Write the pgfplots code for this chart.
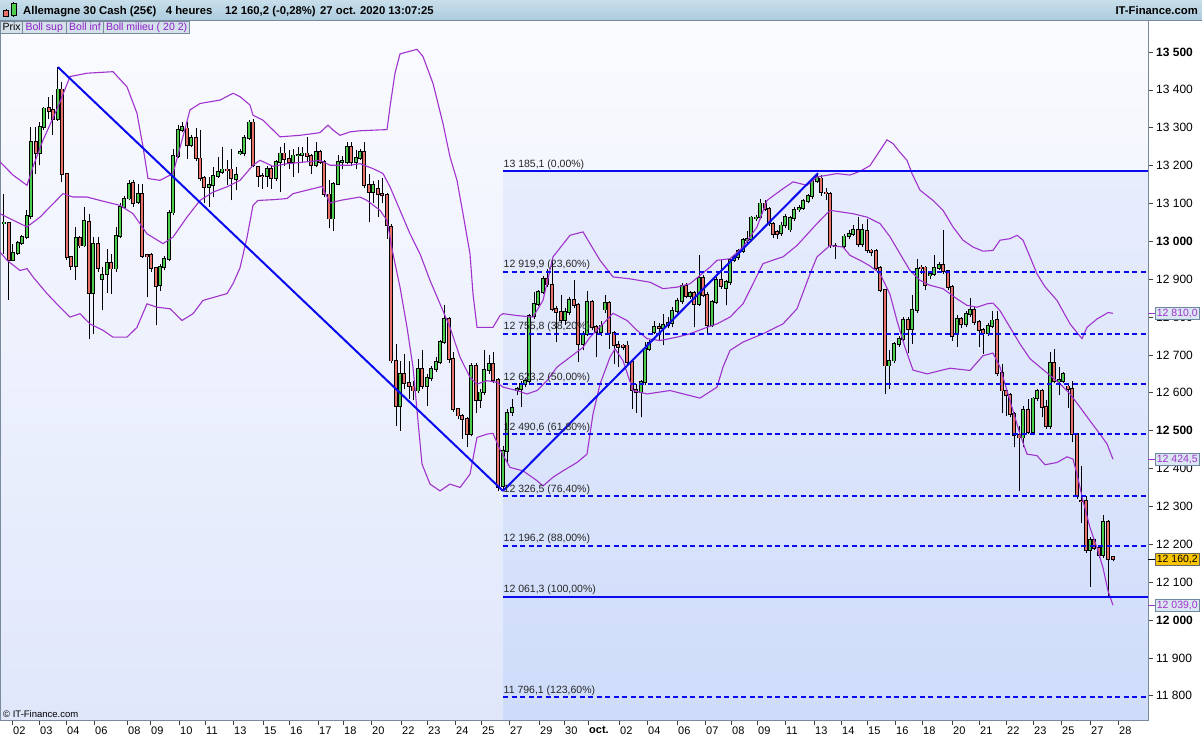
\documentclass[border=0pt]{standalone}
\usepackage{pgfplots}
\pgfplotsset{compat=1.18}
\usepackage{pgfplotstable}
\usepackage{fontspec}
\setmainfont{Liberation Sans}
\newcommand{\fs}[1]{\fontsize{#1}{#1}\selectfont}
\definecolor{cup}{RGB}{76,206,76}
\definecolor{cdn}{RGB}{232,114,106}
\definecolor{boll}{RGB}{160,50,205}
\definecolor{fibc}{RGB}{10,10,240}
\definecolor{bgtop}{RGB}{250,251,255}
\definecolor{bgbot}{RGB}{224,231,251}
\definecolor{fibtop}{RGB}{232,237,253}
\definecolor{fibbot}{RGB}{206,220,250}
\definecolor{framec}{RGB}{120,138,156}
\definecolor{tbtop}{RGB}{200,222,234}
\definecolor{tbbot}{RGB}{172,204,222}
\definecolor{tabfill}{RGB}{212,224,234}
\definecolor{tabtext}{RGB}{140,30,200}
\definecolor{boxfill}{RGB}{218,230,242}
\definecolor{boxdraw}{RGB}{110,135,160}
\definecolor{gold}{RGB}{250,196,0}
\pgfplotsset{candle/.style={only marks, mark=none, mark size=0pt, mark options={draw=none,fill=none}}}

\pgfplotstableread{
x o h l c
4 13049 13126 12967 13050
9 13049 13052 12846 12951
13 12951 12994 12950 12970
18 12970 13000 12965 12996
22 12996 13018 12990 13012
27 13012 13082 13005 13067
31 13067 13302 13060 13263
36 13263 13302 13179 13232
40 13232 13316 13201 13301
44 13301 13355 13295 13351
49 13353 13382 13324 13345
53 13346 13386 13280 13324
58 13324 13461 13318 13401
62 13401 13421 13157 13177
67 13177 13180 12950 12958
71 12958 12962 12925 12934
76 12934 13038 12899 13010
80 13010 13015 12982 12989
84 12989 13091 12984 13054
89 13051 13073 12742 12864
93 12864 13011 12756 12994
98 12994 13011 12920 12929
102 12900 12932 12819 12912
107 12914 12981 12864 12943
111 12943 12967 12862 12928
116 12928 13038 12920 13014
120 13014 13100 13008 13091
124 13091 13120 13085 13113
129 13113 13161 13108 13152
133 13154 13161 13091 13102
138 13104 13152 13098 13126
142 13126 13152 12955 12961
147 12963 12966 12853 12961
151 12963 12968 12920 12929
156 12929 12933 12778 12882
160 12885 12940 12870 12932
164 12932 12960 12925 12954
169 12954 13082 12948 13076
173 13076 13245 13070 13226
178 13226 13307 13220 13294
182 13294 13316 13288 13301
187 13298 13316 13217 13254
191 13254 13280 13248 13272
196 13272 13298 13212 13219
200 13219 13295 13160 13167
204 13167 13172 13100 13144
209 13144 13170 13091 13148
213 13148 13197 13117 13173
218 13173 13223 13168 13183
222 13183 13250 13178 13190
227 13190 13215 13150 13189
231 13190 13245 13108 13167
236 13164 13197 13135 13176
240 13234 13245 13228 13235
244 13232 13280 13225 13273
249 13273 13320 13268 13314
253 13314 13322 13195 13201
258 13196 13200 13144 13172
262 13173 13180 13139 13171
267 13172 13198 13143 13192
271 13192 13198 13139 13168
276 13168 13215 13160 13210
280 13210 13250 13130 13232
284 13232 13260 13200 13217
289 13217 13240 13192 13210
293 13210 13245 13170 13227
298 13227 13248 13180 13228
302 13227 13248 13210 13232
307 13232 13276 13210 13225
311 13225 13230 13179 13201
316 13201 13263 13195 13236
320 13236 13240 13205 13210
324 13210 13215 13118 13124
329 13124 13161 13034 13060
333 13060 13158 13027 13152
338 13152 13227 13148 13210
342 13210 13225 13190 13212
347 13210 13263 13205 13250
351 13250 13263 13200 13210
356 13210 13240 13190 13221
360 13221 13245 13215 13236
364 13236 13263 13140 13148
369 13148 13179 13051 13129
373 13129 13160 13100 13148
378 13139 13161 13064 13124
382 13126 13166 13100 13122
387 13122 13128 13007 13042
391 13038 13047 12678 12685
396 12685 12729 12513 12566
400 12566 12685 12500 12650
404 12650 12703 12610 12625
409 12625 12685 12584 12617
413 12617 12630 12580 12606
418 12606 12690 12600 12663
422 12663 12712 12610 12617
427 12617 12650 12566 12639
431 12639 12670 12630 12663
436 12663 12694 12655 12681
440 12681 12740 12675 12734
444 12734 12831 12728 12795
449 12795 12800 12680 12690
453 12690 12707 12550 12557
458 12557 12560 12530 12540
462 12540 12545 12478 12531
467 12531 12535 12456 12491
471 12491 12680 12485 12672
476 12672 12680 12548 12581
480 12581 12610 12560 12601
484 12601 12712 12595 12660
489 12660 12700 12650 12676
493 12676 12707 12625 12634
498 12634 12640 12340 12350
503 12354 12460 12340 12447
507 12447 12557 12416 12546
512 12550 12584 12540 12559
517 12606 12615 12595 12610
521 12610 12632 12562 12623
525 12623 12640 12615 12632
529 12632 12808 12625 12802
534 12802 12866 12795 12835
538 12835 12872 12830 12866
543 12866 12908 12860 12901
547 12901 12928 12880 12886
552 12886 12947 12815 12822
556 12822 12830 12734 12813
561 12813 12857 12785 12791
565 12791 12825 12780 12813
569 12813 12853 12805 12846
574 12846 12897 12825 12831
578 12831 12837 12681 12729
583 12729 12762 12712 12756
587 12756 12870 12750 12840
592 12840 12845 12765 12773
596 12773 12780 12694 12760
601 12760 12790 12750 12778
605 12820 12857 12810 12837
609 12837 12842 12716 12758
614 12758 12762 12676 12727
618 12727 12738 12668 12720
623 12725 12730 12712 12720
627 12725 12738 12675 12681
632 12681 12686 12557 12608
636 12608 12623 12548 12603
641 12603 12635 12535 12628
645 12628 12734 12620 12716
649 12716 12740 12710 12731
654 12760 12790 12755 12773
659 12775 12785 12740 12771
663 12771 12809 12725 12780
668 12780 12800 12770 12784
672 12784 12826 12775 12816
677 12816 12850 12810 12842
682 12842 12890 12835 12882
686 12882 12890 12850 12855
690 12855 12870 12848 12863
694 12863 12870 12773 12835
699 12835 12963 12830 12904
703 12904 12910 12852 12859
707 12859 12865 12756 12780
712 12780 12845 12775 12840
716 12840 12905 12835 12899
721 12899 12950 12875 12881
726 12877 12897 12831 12892
730 12892 12955 12885 12950
734 12950 12965 12945 12959
738 12959 12980 12952 12974
743 12974 13010 12968 13003
747 13003 13027 12995 13006
751 13006 13068 13000 13063
756 13060 13070 13055 13063
760 13063 13113 13058 13100
765 13100 13108 13080 13086
769 13086 13090 13040 13047
773 13047 13050 13010 13019
777 13024 13030 13007 13020
781 13022 13050 13015 13042
785 13042 13072 13035 13064
790 13031 13068 13025 13062
794 13062 13090 13055 13084
799 13084 13095 13078 13089
803 13089 13112 13083 13107
808 13107 13125 13100 13119
812 13119 13165 13112 13160
817 13160 13179 13155 13170
821 13166 13175 13120 13129
826 13129 13140 13108 13126
830 13126 13130 12982 12989
835 12989 12995 12954 12987
844 12987 13020 12980 13013
849 13013 13030 13005 13020
853 13020 13042 13015 13029
858 13029 13064 12985 12992
862 12992 13047 12985 13029
867 13027 13060 12970 12976
871 12976 12980 12960 12972
876 12974 12980 12925 12930
880 12930 12935 12865 12872
885 12872 12875 12597 12672
889 12672 12712 12610 12685
894 12685 12735 12678 12729
899 12729 12750 12722 12743
903 12743 12800 12738 12793
908 12793 12800 12705 12769
912 12769 12857 12729 12819
917 12819 12954 12812 12928
921 12931 12938 12915 12928
925 12931 12936 12872 12884
930 12910 12920 12900 12914
934 12914 12963 12908 12930
939 12930 12945 12925 12938
943 12938 13029 12915 12921
948 12921 12925 12872 12879
952 12879 12885 12738 12751
957 12754 12805 12722 12795
961 12795 12800 12770 12782
966 12782 12815 12775 12809
970 12809 12851 12800 12820
974 12820 12830 12780 12787
979 12787 12792 12720 12765
983 12765 12770 12703 12758
988 12758 12785 12750 12776
992 12776 12816 12770 12791
997 12793 12817 12645 12653
1002 12653 12676 12548 12606
1006 12606 12612 12540 12594
1010 12594 12600 12535 12544
1014 12544 12550 12456 12488
1019 12488 12513 12341 12482
1023 12482 12566 12456 12555
1028 12555 12584 12490 12496
1033 12496 12590 12488 12585
1037 12585 12610 12578 12604
1042 12604 12610 12535 12562
1046 12562 12580 12505 12512
1050 12512 12707 12504 12679
1054 12679 12716 12625 12632
1059 12632 12668 12593 12633
1063 12632 12655 12625 12650
1068 12617 12622 12560 12610
1072 12610 12630 12469 12491
1077 12491 12495 12320 12328
1081 12315 12406 12257 12313
1086 12315 12328 12178 12184
1090 12184 12220 12088 12211
1094 12211 12215 12185 12191
1099 12191 12195 12165 12171
1103 12171 12278 12165 12259
1108 12259 12265 12063 12162
1113 12166 12170 12155 12160.2
}\candles

\pgfplotstableread{
x y
0 13210
13 13175
27 13148
33 13197
43 13267
58 13355
70 13435
87 13444
113 13448
127 13408
137 13338
143 13250
148 13166
160 13161
173 13179
182 13267
190 13347
200 13364
220 13373
233 13391
240 13382
250 13360
253 13333
263 13320
273 13294
280 13276
300 13280
320 13287
328 13307
333 13294
340 13280
350 13289
360 13292
377 13294
387 13295
390 13355
395 13444
400 13495
417 13507
423 13488
433 13417
443 13311
450 13223
457 13161
463 13073
470 12967
473 12861
477 12773
487 12773
493 12773
500 12804
503 12809
517 12804
533 12800
543 12844
553 12959
570 13016
583 13025
590 12994
600 12950
613 12906
630 12901
650 12892
663 12875
677 12879
690 12888
710 12932
717 12950
730 12954
743 12985
757 13038
767 13108
783 13139
793 13157
807 13148
817 13170
837 13179
850 13175
860 13185
870 13200
880 13240
887 13268
893 13258
900 13235
907 13214
912 13179
920 13135
933 13108
943 13082
953 13038
963 13003
973 12985
983 12974
993 12976
1000 13003
1010 13007
1017 13016
1023 13003
1030 12959
1037 12914
1045 12880
1057 12844
1070 12782
1078 12756
1082 12743
1087 12773
1097 12795
1103 12804
1108 12812
1113 12810
}\bollsup

\pgfplotstableread{
x y
0 13073
13 13056
27 13038
40 13064
63 13126
73 13117
87 13117
100 13108
120 13095
133 13073
147 13020
163 12994
173 13011
187 13064
200 13108
213 13130
227 13144
240 13161
253 13201
260 13214
273 13198
287 13205
307 13210
320 13214
330 13201
350 13201
360 13205
373 13192
383 13179
390 13144
400 13082
410 13020
420 12967
430 12897
440 12835
450 12773
460 12694
470 12641
477 12623
487 12632
497 12628
503 12615
517 12606
527 12597
537 12606
547 12632
557 12668
570 12694
583 12720
590 12747
603 12782
613 12810
627 12791
637 12765
647 12743
660 12738
677 12747
690 12756
707 12773
717 12782
730 12800
743 12835
763 12941
777 12954
783 12959
797 12989
817 13047
830 13082
840 13078
853 13073
867 13064
880 13047
890 13012
900 12967
910 12923
920 12897
930 12884
943 12875
957 12848
967 12831
977 12826
987 12835
993 12837
1000 12817
1010 12773
1020 12729
1030 12690
1040 12668
1050 12646
1060 12624
1070 12597
1080 12562
1090 12526
1100 12491
1107 12465
1113 12424.5
}\bollmid

\pgfplotstableread{
x y
0 12972
7 12950
20 12923
27 12928
33 12906
47 12862
60 12826
70 12800
80 12809
90 12782
103 12765
113 12747
127 12747
137 12773
147 12835
157 12826
170 12822
182 12791
193 12809
203 12844
227 12862
233 12888
240 12930
247 13010
253 13095
258 13108
273 13110
287 13113
293 13126
313 13139
322 13145
330 13101
340 13108
360 13117
367 13108
380 13082
387 13055
393 12967
400 12879
407 12773
413 12668
422 12412
430 12359
440 12341
450 12359
460 12350
470 12385
477 12482
487 12491
493 12493
500 12450
510 12403
523 12394
537 12368
543 12354
553 12377
563 12394
577 12416
587 12438
593 12544
600 12623
610 12694
615 12716
623 12685
633 12606
647 12597
670 12606
700 12586
717 12615
723 12668
730 12712
743 12734
763 12756
783 12782
797 12822
810 12914
817 12959
830 12989
843 12985
850 12963
860 12950
870 12935
880 12915
890 12860
897 12790
905 12720
913 12660
927 12650
950 12665
970 12659
983 12698
993 12705
1000 12668
1010 12579
1020 12491
1027 12438
1037 12434
1045 12410
1057 12416
1067 12431
1073 12425
1077 12385
1083 12315
1090 12244
1097 12191
1103 12138
1108 12077
1113 12039
}\bollinf

\begin{document}
\begin{tikzpicture}[x=1pt,y=1pt]
\fill[white] (0,0) rectangle (1202,740);
\useasboundingbox (0,0) rectangle (1202,740);
\shade[top color=bgtop,bottom color=bgbot] (0,20) rectangle (1148,720);
\shade[top color=fibtop,bottom color=fibbot] (503,20) rectangle (1148,568.7);
\begin{axis}[
  at={(0pt,20pt)}, anchor=south west,
  scale only axis, width=1148pt, height=700pt,
  xmin=0, xmax=1148, ymin=11736, ymax=13584.5,
  axis line style={draw=framec, line width=0.8pt},
  clip=true,
  xtick={12,39,66,94,127,150,179,205,233,263,289,318,343,371,401,427,455,481,509,539,564,588,619,647,677,705,731,757,785,814,841,867,895,922,952,979,1006,1033,1061,1090,1118},
  xticklabels={02,03,04,06,08,09,10,11,13,15,16,17,18,20,22,23,24,25,27,29,30,\textbf{oct.},02,04,06,07,08,09,11,13,14,15,16,18,20,21,22,23,25,27,28},
  ytick={11800,11900,12000,12100,12200,12300,12400,12500,12600,12700,12800,12900,13000,13100,13200,13300,13400,13500},
  yticklabels={11 800,11 900,\textbf{12 000},12 100,12 200,12 300,12 400,\textbf{12 500},12 600,12 700,12 800,12 900,\textbf{13 000},13 100,13 200,13 300,13 400,\textbf{13 500}},
  xtick pos=left, ytick pos=right, yticklabel pos=right,
  tick align=outside, major tick length=5pt,
  tick style={draw=black!75, line width=0.7pt},
  xticklabel style={font=\fs{11}, anchor=north west, inner sep=0pt, xshift=1pt, yshift=-1.5pt},
  yticklabel style={font=\fs{12}, anchor=west, inner sep=0pt, xshift=3pt},
]
% wicks
\addplot[candle, error bars/.cd, y dir=plus, y explicit, error mark=none,
  error bar style={line width=1pt, draw=black}]
  table[x=x, y=l, y error expr=\thisrow{h}-\thisrow{l}] {\candles};
% body outlines
\addplot[candle, error bars/.cd, y dir=both, y explicit, error mark=none,
  error bar style={line width=4pt, draw=black}]
  table[x=x, y expr=0.5*(\thisrow{o}+\thisrow{c}), y error expr=0.5*abs(\thisrow{c}-\thisrow{o})+2.3] {\candles};
% rising bodies
\addplot[candle, restrict expr to domain={\thisrow{c}-\thisrow{o}}{0.001:100000},
  error bars/.cd, y dir=both, y explicit, error mark=none,
  error bar style={line width=2.2pt, draw=cup}]
  table[x=x, y expr=0.5*(\thisrow{o}+\thisrow{c}), y error expr=0.5*abs(\thisrow{c}-\thisrow{o})] {\candles};
% falling bodies
\addplot[candle, restrict expr to domain={\thisrow{c}-\thisrow{o}}{-100000:-0.001},
  error bars/.cd, y dir=both, y explicit, error mark=none,
  error bar style={line width=2.2pt, draw=cdn}]
  table[x=x, y expr=0.5*(\thisrow{o}+\thisrow{c}), y error expr=0.5*abs(\thisrow{c}-\thisrow{o})] {\candles};
\addplot[boll, line width=1.1pt] table[x=x,y=y] {\bollsup};
\addplot[boll, line width=1.1pt] table[x=x,y=y] {\bollmid};
\addplot[boll, line width=1.1pt] table[x=x,y=y] {\bollinf};
% fibonacci levels
\addplot[fibc, line width=1.8pt] coordinates {(503,13185.1) (1148,13185.1)};
\addplot[fibc, line width=1.8pt] coordinates {(503,12061.3) (1148,12061.3)};
\addplot[fibc, line width=1.8pt, dash pattern=on 5pt off 3.5pt] coordinates {(503,12919.9) (1148,12919.9)};
\addplot[fibc, line width=1.8pt, dash pattern=on 5pt off 3.5pt] coordinates {(503,12755.8) (1148,12755.8)};
\addplot[fibc, line width=1.8pt, dash pattern=on 5pt off 3.5pt] coordinates {(503,12623.2) (1148,12623.2)};
\addplot[fibc, line width=1.8pt, dash pattern=on 5pt off 3.5pt] coordinates {(503,12490.6) (1148,12490.6)};
\addplot[fibc, line width=1.8pt, dash pattern=on 5pt off 3.5pt] coordinates {(503,12326.5) (1148,12326.5)};
\addplot[fibc, line width=1.8pt, dash pattern=on 5pt off 3.5pt] coordinates {(503,12196.2) (1148,12196.2)};
\addplot[fibc, line width=1.8pt, dash pattern=on 5pt off 3.5pt] coordinates {(503,11796.1) (1148,11796.1)};
% trend lines
\addplot[fibc, line width=2pt] coordinates {(58,13460) (503,12341)};
\addplot[fibc, line width=2pt] coordinates {(503,12341) (818,13180)};
\begin{scope}[every node/.style={anchor=south west, inner sep=0pt, font=\fs{10.5}, text=black!85, yshift=1.5pt}]
\node at (axis cs:503.5,13185.1) {13 185,1 (0,00\%)};
\node at (axis cs:503.5,12919.9) {12 919,9 (23,60\%)};
\node at (axis cs:503.5,12755.8) {12 755,8 (38,20\%)};
\node at (axis cs:503.5,12623.2) {12 623,2 (50,00\%)};
\node at (axis cs:503.5,12490.6) {12 490,6 (61,80\%)};
\node at (axis cs:503.5,12326.5) {12 326,5 (76,40\%)};
\node at (axis cs:503.5,12196.2) {12 196,2 (88,00\%)};
\node at (axis cs:503.5,12061.3) {12 061,3 (100,00\%)};
\node at (axis cs:503.5,11796.1) {11 796,1 (123,60\%)};
\end{scope}
\end{axis}
% title bar
\shade[top color=tbtop,bottom color=tbbot] (0,720) rectangle (1202,740);
\draw[framec, line width=0.8pt] (0,720) -- (1202,720);
% icon
\draw[black, line width=0.6pt] (5.8,723.5) -- (5.8,731);
\filldraw[fill=cdn, draw=black, line width=0.5pt] (3.3,723.5) rectangle (8.3,729.3);
\draw[black, line width=0.6pt] (13.5,723.3) -- (13.5,738.3);
\filldraw[fill=cup, draw=black, line width=0.5pt] (11,725) rectangle (16,736.7);
\begin{scope}[every node/.style={anchor=base west, inner sep=0pt, font=\bfseries\fs{11.3}}]
\node at (23,725) {Allemagne 30 Cash (25€)};
\node at (165.7,725) {4 heures};
\node at (225,725) {12 160,2 (-0,28\%)};
\node at (320,725) {27 oct. 2020 13:07:25};
\node[anchor=base east] at (1198,725) {IT-Finance.com};
\end{scope}
% legend tabs
\filldraw[fill=tabfill, draw=framec, line width=0.6pt] (0.5,706.7) rectangle (22.7,718.7);
\filldraw[fill=tabfill, draw=framec, line width=0.6pt] (22.7,706.7) rectangle (66.7,718.7);
\filldraw[fill=tabfill, draw=framec, line width=0.6pt] (66.7,706.7) rectangle (103.3,718.7);
\filldraw[fill=tabfill, draw=framec, line width=0.6pt] (103.3,706.7) rectangle (189.3,718.7);
\begin{scope}[every node/.style={anchor=base west, inner sep=0pt, font=\fs{10.5}}]
\node at (2.3,709.2) {Prix};
\node[text=tabtext] at (25.3,709.2) {Boll sup};
\node[text=tabtext] at (69,709.2) {Boll inf};
\node[text=tabtext] at (105.8,709.2) {Boll milieu ( 20 2)};
\end{scope}
\node[anchor=base west, inner sep=0pt, font=\fs{9.5}] at (3,22.5) {© IT-Finance.com};
% value boxes
\draw[boll, line width=0.8pt] (1148,426.7) -- (1155,426.7);
\node[draw=boxdraw, fill=boxfill, line width=0.6pt, text=boll, font=\fs{10.5}, inner sep=0pt, minimum width=44pt, minimum height=12pt, anchor=west] at (1155,426.7) {12 810,0};
\draw[boll, line width=0.8pt] (1148,280.7) -- (1155,280.7);
\node[draw=boxdraw, fill=boxfill, line width=0.6pt, text=boll, font=\fs{10.5}, inner sep=0pt, minimum width=44pt, minimum height=12pt, anchor=west] at (1155,280.7) {12 424,5};
\draw[black, line width=0.8pt] (1148,180.6) -- (1155,180.6);
\node[draw=black!60, fill=gold, line width=0.6pt, text=black, font=\fs{10.5}, inner sep=0pt, minimum width=44pt, minimum height=12pt, anchor=west] at (1155,180.6) {12 160,2};
\draw[boll, line width=0.8pt] (1148,134.7) -- (1155,134.7);
\node[draw=boxdraw, fill=boxfill, line width=0.6pt, text=boll, font=\fs{10.5}, inner sep=0pt, minimum width=44pt, minimum height=12pt, anchor=west] at (1155,134.7) {12 039,0};
\end{tikzpicture}
\end{document}
